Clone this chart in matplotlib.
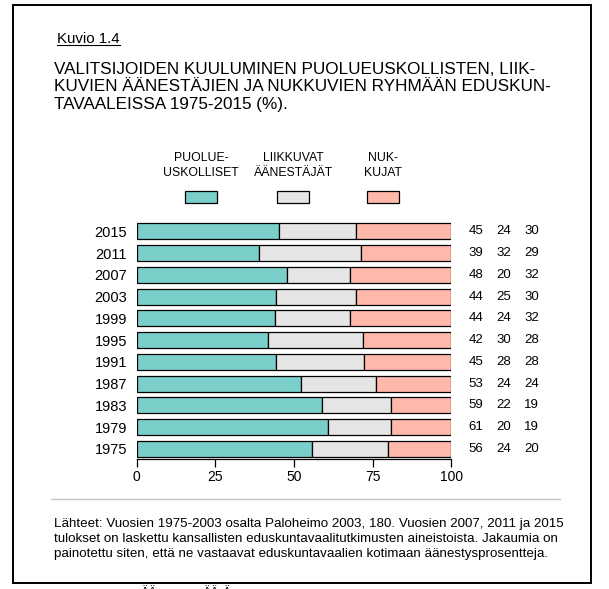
import matplotlib
matplotlib.use("Agg")
import matplotlib.pyplot as plt
from matplotlib.patches import Rectangle
from matplotlib.lines import Line2D
import numpy as np

plt.rcParams['font.family'] = ['Liberation Sans', 'DejaVu Sans']

# ---------------- data ----------------
years = ["2015", "2011", "2007", "2003", "1999", "1995", "1991", "1987", "1983", "1979", "1975"]
puolueuskolliset = [45.3, 39.0, 47.9, 44.4, 44.1, 41.8, 44.4, 52.3, 59.0, 60.9, 55.8]
liikkuvat = [24.5, 32.2, 20.0, 25.4, 23.8, 30.2, 28.0, 23.9, 21.9, 20.0, 24.2]
nukkujat = [30.2, 28.8, 32.1, 30.2, 32.1, 28.0, 27.6, 23.8, 19.1, 19.1, 20.0]
lbl_puolue = ["45", "39", "48", "44", "44", "42", "45", "53", "59", "61", "56"]
lbl_liikk = ["24", "32", "20", "25", "24", "30", "28", "24", "22", "20", "24"]
lbl_nukk = ["30", "29", "32", "30", "32", "28", "28", "24", "19", "19", "20"]
xticks = [0, 25, 50, 75, 100]
legend_labels = ["PUOLUE-\nUSKOLLISET", "LIIKKUVAT\nÄÄNESTÄJÄT", "NUK-\nKUJAT"]
colors = ["#7ACFCB", "#E5E5E5", "#FFB9AA"]

W, H = 609, 589
fig = plt.figure(figsize=(W / 100, H / 100), dpi=100)

def fx(px):
    return px / W

def fy(py):
    return 1 - py / H

# outer frame
fig.patches.append(Rectangle((fx(13), fy(583)), fx(591) - fx(13), fy(5) - fy(583),
                             transform=fig.transFigure, fill=False, ec="black", lw=1.4))

# heading
kt = fig.text(fx(57), fy(43), "Kuvio 1.4", fontsize=10.8, ha="left", va="baseline")
title_lines = ["VALITSIJOIDEN KUULUMINEN PUOLUEUSKOLLISTEN, LIIK-",
               "KUVIEN ÄÄNESTÄJIEN JA NUKKUVIEN RYHMÄÄN EDUSKUN-",
               "TAVAALEISSA 1975-2015 (%)."]
for i, line in enumerate(title_lines):
    fig.text(fx(54), fy(69 + 17.6 * i), line, fontsize=12.3, ha="left", va="center")

# legend
leg_x = [201, 293, 383]
for lx, lab, c in zip(leg_x, legend_labels, colors):
    fig.text(fx(lx), fy(165.5), lab, fontsize=8.8, ha="center", va="center",
             linespacing=1.25)
    fig.patches.append(Rectangle((fx(lx - 16), fy(203)), fx(32), fy(191) - fy(203),
                                 transform=fig.transFigure, fc=c, ec="black", lw=0.9))

# chart
ax = fig.add_axes([fx(136.7), fy(458.5), fx(451.3) - fx(136.7), fy(220.5) - fy(458.5)])
ypos = np.arange(len(years))[::-1]
p = np.array(puolueuskolliset)
l = np.array(liikkuvat)
n = np.array(nukkujat)
h = 0.74
ax.barh(ypos, p, height=h, color=colors[0], edgecolor="black", lw=0.9)
ax.barh(ypos, l, left=p, height=h, color=colors[1], edgecolor="black", lw=0.9)
ax.barh(ypos, n, left=p + l, height=h, color=colors[2], edgecolor="black", lw=0.9)

ax.set_xlim(0, 100)
ax.set_ylim(-0.44, 10.5)
for s in ["top", "right", "left"]:
    ax.spines[s].set_visible(False)
ax.spines["bottom"].set_linewidth(0.9)
ax.set_xticks(xticks)
ax.set_xticklabels([str(t) for t in xticks], fontsize=10)
ax.tick_params(axis="x", length=5.5, width=0.9, pad=2.5)
ax.set_yticks(ypos)
ax.set_yticklabels(years, fontsize=10.5)
ax.tick_params(axis="y", length=0, pad=7)

col_x = [107.9, 116.8, 125.6]
for yy, a, b, c in zip(ypos, lbl_puolue, lbl_liikk, lbl_nukk):
    for xx, t in zip(col_x, (a, b, c)):
        ax.text(xx, yy, t, fontsize=9.5, ha="center", va="center", clip_on=False)

# separator and notes
fig.lines.append(Line2D([fx(51), fx(560)], [fy(499), fy(499)], transform=fig.transFigure,
                        color="#C4C4C4", lw=1.0))
notes = ["Lähteet: Vuosien 1975-2003 osalta Paloheimo 2003, 180. Vuosien 2007, 2011 ja 2015",
         "tulokset on laskettu kansallisten eduskuntavaalitutkimusten aineistoista. Jakaumia on",
         "painotettu siten, että ne vastaavat eduskuntavaalien kotimaan äänestysprosentteja."]
for i, line in enumerate(notes):
    fig.text(fx(54), fy(523.5 + 15.5 * i), line, fontsize=9.6, ha="left", va="center")

# cut-off text of the next line below the frame
for xx, t in [(141, "ÄÄ"), (203, "ÄÄ"), (223, "Ä")]:
    fig.text(fx(xx), fy(586.5), t, fontsize=9, ha="left", va="top")

# underline for heading
fig.canvas.draw()
bb = kt.get_window_extent(renderer=fig.canvas.get_renderer())
uy = fy(45)
fig.lines.append(Line2D([bb.x0 / W, bb.x1 / W], [uy, uy], transform=fig.transFigure,
                        color="black", lw=0.8))

fig.savefig("out.png", dpi=100)
